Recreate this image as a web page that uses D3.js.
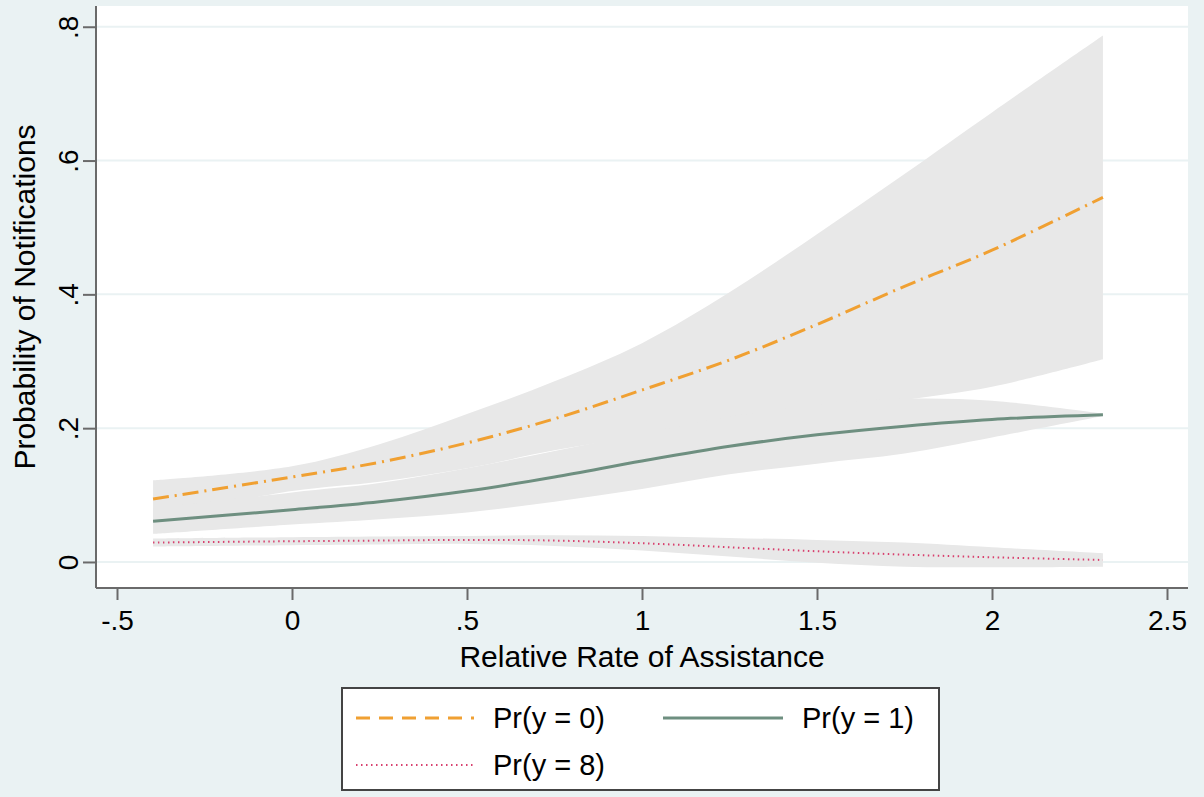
<!DOCTYPE html>
<html>
<head>
<meta charset="utf-8">
<script src="https://cdn.jsdelivr.net/npm/d3@7"></script>
<style>
  html, body { margin: 0; padding: 0; background: #EAF2F3; }
  svg { display: block; }
  text { font-family: "Liberation Sans", Arial, Helvetica, sans-serif; fill: #000; }
</style>
</head>
<body>
<svg id="chart" width="1204" height="797"></svg>
<script>
// ---- data ----
const xVals   = [-0.397, 0, 0.25, 0.5, 0.75, 1.0, 1.25, 1.5, 1.75, 2.0, 2.317];
const pr0     = [0.094, 0.127, 0.149, 0.178, 0.214, 0.257, 0.302, 0.355, 0.412, 0.466, 0.545];
const pr0Hi   = [0.122, 0.143, 0.176, 0.221, 0.270, 0.327, 0.403, 0.490, 0.580, 0.672, 0.787];
const pr0Lo   = [0.066, 0.106, 0.120, 0.140, 0.167, 0.187, 0.203, 0.221, 0.242, 0.262, 0.303];
const pr1     = [0.061, 0.078, 0.090, 0.106, 0.127, 0.151, 0.173, 0.190, 0.203, 0.213, 0.220];
const pr1Hi   = [0.080, 0.104, 0.118, 0.140, 0.166, 0.192, 0.217, 0.235, 0.244, 0.241, 0.222];
const pr1Lo   = [0.042, 0.056, 0.064, 0.074, 0.090, 0.109, 0.131, 0.147, 0.162, 0.186, 0.218];
const pr8     = [0.029, 0.031, 0.032, 0.033, 0.032, 0.028, 0.022, 0.016, 0.011, 0.007, 0.003];
const pr8Hi   = [0.035, 0.037, 0.038, 0.039, 0.040, 0.039, 0.036, 0.033, 0.029, 0.022, 0.013];
const pr8Lo   = [0.023, 0.025, 0.026, 0.027, 0.024, 0.017, 0.008, -0.001, -0.007, -0.008, -0.007];
const xTicks  = [-0.5, 0, 0.5, 1, 1.5, 2, 2.5];
const xTickLabels = ["-.5", "0", ".5", "1", "1.5", "2", "2.5"];
const yTicks  = [0, 0.2, 0.4, 0.6, 0.8];
const yTickLabels = ["0", ".2", ".4", ".6", ".8"];
const seriesNames = ["Pr(y = 0)", "Pr(y = 1)", "Pr(y = 8)"];
const xTitle = "Relative Rate of Assistance";
const yTitle = "Probability of Notifications";

// ---- layout ----
const svg = d3.select("#chart");
const L = 96, R = 1188, T = 6, B = 588;
const x = d3.scaleLinear().domain([-0.56, 2.56]).range([L, R]);
const y = d3.scaleLinear().domain([-0.0389, 0.831]).range([B, T]);

svg.append("rect").attr("x", 0).attr("y", 0).attr("width", 1204).attr("height", 797).attr("fill", "#EAF2F3");
svg.append("rect").attr("x", L).attr("y", T).attr("width", R - L).attr("height", B - T).attr("fill", "#fff");

// gridlines
svg.append("g").selectAll("line").data(yTicks).join("line")
  .attr("x1", L).attr("x2", R)
  .attr("y1", d => y(d)).attr("y2", d => y(d))
  .attr("stroke", "#EAF2F3").attr("stroke-width", 2);

const curve = d3.curveCatmullRom.alpha(0.5);
const area = (hi, lo) => d3.area().curve(curve)
  .x((d, i) => x(xVals[i])).y0((d, i) => y(lo[i])).y1((d, i) => y(hi[i]));
const line = (v) => d3.line().curve(curve).x((d, i) => x(xVals[i])).y((d, i) => y(v[i]));

const bandColor = "#E8E8E8";
svg.append("path").attr("d", area(pr0Hi, pr0Lo)(xVals)).attr("fill", bandColor);
svg.append("path").attr("d", area(pr1Hi, pr1Lo)(xVals)).attr("fill", bandColor);
svg.append("path").attr("d", area(pr8Hi, pr8Lo)(xVals)).attr("fill", bandColor);

const c0 = "#F0A032", c1 = "#6E8F80", c8 = "#D8406E";
svg.append("path").attr("d", line(pr8)(xVals)).attr("fill", "none")
  .attr("stroke", c8).attr("stroke-width", 2).attr("stroke-dasharray", "1.5,3.5");
svg.append("path").attr("d", line(pr1)(xVals)).attr("fill", "none")
  .attr("stroke", c1).attr("stroke-width", 3);
svg.append("path").attr("d", line(pr0)(xVals)).attr("fill", "none")
  .attr("stroke", c0).attr("stroke-width", 3).attr("stroke-dasharray", "16,6,2,6");

// axes
const axisColor = "#6a6a6a";
const gx = svg.append("g").attr("transform", `translate(0,${B})`)
  .call(d3.axisBottom(x).tickValues(xTicks).tickFormat((d, i) => xTickLabels[i]).tickSize(12).tickSizeOuter(0));
gx.select(".domain").attr("stroke", axisColor).attr("stroke-width", 2).attr("d", `M${L},0H${R}`);
gx.selectAll(".tick line").attr("stroke", axisColor).attr("stroke-width", 2);
gx.selectAll(".tick text").attr("y", 42).attr("dy", 0).attr("font-size", 28);

const gy = svg.append("g").attr("transform", `translate(${L},0)`)
  .call(d3.axisLeft(y).tickValues(yTicks).tickFormat((d, i) => yTickLabels[i]).tickSize(13).tickSizeOuter(0));
gy.select(".domain").attr("stroke", axisColor).attr("stroke-width", 2).attr("d", `M0,${T}V${B}`);
gy.selectAll(".tick line").attr("stroke", axisColor).attr("stroke-width", 2);
gy.selectAll(".tick text").attr("transform", "rotate(-90)")
  .attr("x", 0).attr("y", -18).attr("dy", 0).attr("text-anchor", "middle").attr("font-size", 28);
svg.selectAll(".tick text").attr("fill", "#000").style("font-family", '"Liberation Sans", Arial, sans-serif');

// axis titles
svg.append("text").attr("x", (L + R) / 2).attr("y", 667).attr("text-anchor", "middle")
  .attr("font-size", 30).text(xTitle);
svg.append("text").attr("transform", `translate(35,${(T + B) / 2 }) rotate(-90)`)
  .attr("text-anchor", "middle").attr("font-size", 30).text(yTitle);

// legend
const lg = svg.append("g");
lg.append("rect").attr("x", 342).attr("y", 688).attr("width", 597).attr("height", 102)
  .attr("fill", "#fff").attr("stroke", "#444").attr("stroke-width", 2);
const legendItems = [
  { name: seriesNames[0], color: c0, dash: "14,9", w: 3, x1: 356, x2: 474, ty: 718, tx: 493 },
  { name: seriesNames[1], color: c1, dash: null, w: 3, x1: 663, x2: 783, ty: 718, tx: 802 },
  { name: seriesNames[2], color: c8, dash: "1.5,3.5", w: 2, x1: 356, x2: 474, ty: 765, tx: 493 }
];
legendItems.forEach(it => {
  const l = lg.append("line").attr("x1", it.x1).attr("x2", it.x2).attr("y1", it.ty).attr("y2", it.ty)
    .attr("stroke", it.color).attr("stroke-width", it.w);
  if (it.dash) l.attr("stroke-dasharray", it.dash);
  lg.append("text").attr("x", it.tx).attr("y", it.ty + 10).attr("font-size", 29).text(it.name);
});
</script>
</body>
</html>
